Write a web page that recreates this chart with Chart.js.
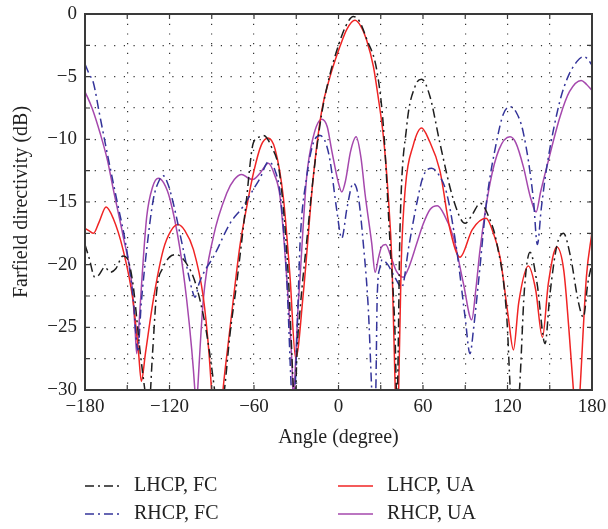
<!DOCTYPE html>
<html>
<head>
<meta charset="utf-8">
<script src="https://cdn.jsdelivr.net/npm/chart.js@4"></script>
<style>
  body { margin: 0; background: #fff; }
  canvas { display: block; }
</style>
</head>
<body>
<canvas id="chart1" width="608" height="529"></canvas>
<script>
// angle (degree) and farfield directivity (dB), one pair of arrays per curve
const angleLhcpFc = [-180,-177,-173,-170,-166,-162,-158,-153,-150,-146,-141,-137.5,-135,-132,-129,-124.4,-120,-115,-110,-103,-98,-93.6,-88,-85,-81,-77,-72.3,-66,-60.5,-56,-53.4,-48,-41.5,-35.6,-32,-31,-29.5,-27.3,-22,-17.9,-12,-6,0,5,10.5,15,20,27.2,31.9,36.6,40,41.5,43.7,48.4,54.3,59,65,72,81.6,89.9,95,100.6,106,112.4,119.5,122,125,128.5,132,136,141,146.7,150,155,159.7,165,170,173.9,177,180];
const dbLhcpFc = [-18.4,-19.5,-21,-20.8,-20.2,-20.6,-20.3,-19.3,-19.5,-21.5,-26.8,-30,-32,-27,-22,-20.2,-19.4,-19.2,-19.6,-21,-23,-25.5,-30,-33,-30,-25.5,-21.5,-15.5,-10.3,-9.8,-9.7,-10.5,-13,-21,-30,-32,-27,-23.6,-17.5,-13,-8,-4.8,-2.5,-1,-0.2,-0.6,-2,-4.5,-9,-18.3,-25,-31,-17,-9,-5.8,-5.2,-6.6,-10.3,-14.8,-16.7,-16,-15.1,-16,-18.3,-24.2,-30,-34,-30,-22,-19,-21.5,-26.3,-22.5,-18.5,-17.5,-19.5,-22.8,-24.2,-21.5,-19.9];

const angleRhcpFc = [-180,-177,-174,-170,-164.6,-157.5,-150.4,-145.7,-142.5,-140,-136.2,-131.5,-127,-124.4,-121,-117.3,-110.2,-104,-101.9,-99,-95,-88.9,-77,-68,-60.5,-55.7,-49.8,-45,-41.5,-36.8,-33.5,-32,-30.8,-29,-27.3,-22.6,-17.9,-13.1,-9,-6,-1.3,2.3,6,10.5,14,17.6,21.2,23.6,25,26.5,27.5,29.5,31,35,40,44.9,50,55.6,60,66.2,71,76.8,83.9,89.9,93.4,96,99.3,105.3,112.4,117,121.8,126,131.3,138.4,141.2,144,147.9,157.3,163,169.2,173.9,177,180];
const dbRhcpFc = [-4,-4.8,-5.5,-7.8,-10.9,-14.8,-18.8,-22.8,-26.8,-23,-18.8,-14.8,-13.2,-12.9,-13.6,-15.1,-18.8,-22,-22.6,-21.5,-20.5,-19.4,-16.7,-15.4,-14,-13.1,-11.8,-12.5,-14.3,-21,-30,-33,-30,-24,-18.3,-13,-10.3,-9.7,-10.3,-11.7,-15.6,-17.9,-15.5,-13.5,-14.5,-18.3,-23.6,-30,-33,-30,-22.5,-20.2,-19.6,-20,-21,-21.8,-18.5,-15.1,-13,-12.3,-12.8,-14.3,-18.8,-24.2,-27.1,-25,-21.5,-14.8,-10.1,-8,-7.4,-7.8,-9.5,-14.8,-18.4,-15.5,-12.2,-6.9,-5,-3.8,-3.4,-3.6,-4.1];

const angleLhcpUa = [-180,-177,-174,-170,-165,-160,-153,-146,-142,-140,-137,-131.5,-124.4,-119,-114,-109,-103,-96,-92,-89,-86.5,-84,-82,-78,-74.7,-70,-65.2,-60,-55,-50,-45,-39.2,-34.4,-30.4,-25,-17.9,-11.9,-6,1,6,11.7,16,20,24.8,28,31.9,35,38,40.3,41.5,42.7,44.5,47.5,53,59,64,72,79.2,86.3,95,104.8,110,114.7,120.6,124.2,128,134.8,140,144.8,149,155,160,163.5,166.8,169.3,171.5,176,180];
const dbLhcpUa = [-17.1,-17.3,-17.5,-16.6,-15.4,-16.3,-18.8,-22.8,-27,-29.3,-27,-22.8,-18.8,-17.3,-16.8,-17.3,-18.8,-22.6,-27,-32,-36,-33,-30,-26,-22.8,-18.5,-15.4,-12.5,-10.5,-9.9,-10.8,-14.6,-21,-27.5,-22.3,-13,-7.7,-5,-2.6,-1.2,-0.5,-1,-2.1,-4.2,-6.5,-9.8,-14,-20,-30,-33,-30,-20,-13.8,-10.5,-9.1,-10,-12.5,-17.2,-19.4,-17.2,-16.3,-17.5,-19.4,-24.2,-26.8,-23,-20.1,-22,-25.8,-21.5,-18.6,-20.5,-25,-30,-34,-30,-21,-17.4];

const angleRhcpUa = [-180,-175,-169.3,-164,-159.9,-152.8,-146.8,-144.5,-143.3,-141.5,-139.8,-136.2,-132,-127.9,-124,-119.6,-112.5,-107.8,-104.2,-102,-101,-100,-96,-88.9,-79.4,-74,-68.7,-64,-61,-55.7,-49.8,-45.5,-41.5,-36.8,-33,-32,-31,-29,-27.3,-22.6,-17.9,-11.9,-8,-4.8,0,2.3,5,8.5,12.5,16,18.8,23.6,26,28.5,30.5,33.5,37,41,46,50,55.6,60,65,70.2,75,81.6,88.7,94.6,97.5,100.5,107.6,114,121.8,126,131.3,136,140.3,143.5,147.9,157.3,164,172.3,176,180];
const dbRhcpUa = [-6.2,-7.5,-9.5,-11.7,-14,-17.8,-21.5,-25,-27.1,-24.5,-21.5,-16.2,-13.8,-13.1,-13.5,-14.8,-18.8,-22.8,-26.8,-30,-32,-30,-22.8,-17.8,-14.3,-13.2,-12.8,-13.1,-13.2,-12.7,-11.9,-12.8,-14.6,-21,-28,-31,-29,-24,-21,-13,-9.8,-8.4,-9,-10.9,-13.5,-14.2,-13.3,-11,-9.8,-11.5,-14.3,-18.3,-20.6,-19.4,-18.6,-18.4,-19.3,-20.5,-21,-20.2,-18.3,-16.8,-15.6,-15.3,-16,-17.8,-21.5,-24.4,-22,-18.8,-13.5,-10.8,-9.8,-10.3,-12.2,-14.5,-15.8,-14.2,-12.2,-8.2,-6.2,-5.3,-5.6,-6.1];

const serif = '"Liberation Serif", "DejaVu Serif", serif';
const dashDot = [9, 4, 2, 4];

function pts(a, d) {
  return a.map((x, i) => ({x: x, y: d[i]}));
}
function minus(v) {
  return String(v).replace('-', '\u2212');
}

// frame with inward tick marks
const framePlugin = {
  id: 'frame',
  afterDraw(chart) {
    const c = chart.ctx, a = chart.chartArea;
    const xs = chart.scales.x, ys = chart.scales.y;
    c.save();
    c.strokeStyle = '#3a3a3a';
    c.lineWidth = 1.2;
    c.beginPath();
    xs.ticks.forEach(t => {
      const px = xs.getPixelForValue(t.value);
      c.moveTo(px, a.bottom); c.lineTo(px, a.bottom - 5);
      c.moveTo(px, a.top); c.lineTo(px, a.top + 5);
    });
    ys.ticks.forEach(t => {
      const py = ys.getPixelForValue(t.value);
      c.moveTo(a.left, py); c.lineTo(a.left + 5, py);
      c.moveTo(a.right, py); c.lineTo(a.right - 5, py);
    });
    c.stroke();
    c.lineWidth = 2;
    c.strokeRect(a.left, a.top, a.right - a.left, a.bottom - a.top);
    c.restore();
  }
};

// 2 x 2 legend under the axis
const legendPlugin = {
  id: 'legend2',
  afterDraw(chart) {
    const c = chart.ctx;
    const slots = [[85, 486], [85, 514], [338, 486], [338, 514]];
    c.save();
    c.font = '20px ' + serif;
    c.textBaseline = 'middle';
    c.fillStyle = '#222';
    chart.data.datasets.forEach((ds, i) => {
      const [x, y] = slots[i];
      c.strokeStyle = ds.borderColor;
      c.lineWidth = 1.6;
      c.setLineDash(ds.borderDash || []);
      c.beginPath();
      c.moveTo(x, y); c.lineTo(x + 35, y);
      c.stroke();
      c.setLineDash([]);
      c.fillText(ds.label, x + 49, y);
    });
    c.restore();
  }
};

new Chart(document.getElementById('chart1'), {
  type: 'line',
  data: {
    datasets: [
      {label: 'LHCP, FC', data: pts(angleLhcpFc, dbLhcpFc), borderColor: '#1e1e1e', borderDash: dashDot},
      {label: 'RHCP, FC', data: pts(angleRhcpFc, dbRhcpFc), borderColor: '#34349a', borderDash: dashDot},
      {label: 'LHCP, UA', data: pts(angleLhcpUa, dbLhcpUa), borderColor: '#f02424'},
      {label: 'RHCP, UA', data: pts(angleRhcpUa, dbRhcpUa), borderColor: '#a548ad'}
    ]
  },
  options: {
    responsive: false,
    animation: false,
    devicePixelRatio: 1,
    layout: {padding: {top: 14, right: 16, left: 0, bottom: 79}},
    elements: {
      point: {radius: 0},
      line: {borderWidth: 1.5, cubicInterpolationMode: 'monotone', fill: false}
    },
    plugins: {legend: {display: false}, tooltip: {enabled: false}},
    scales: {
      x: {
        type: 'linear', min: -180, max: 180,
        afterFit(s) { s.height = 60; s.paddingLeft = 0; s.paddingRight = 0; },
        ticks: {
          stepSize: 30, autoSkip: false, maxRotation: 0, padding: 6,
          color: '#222', font: {family: serif, size: 19},
          callback: v => (v % 60 === 0 ? minus(v) : '')
        },
        grid: {color: '#333', lineWidth: 1.2, drawTicks: false},
        border: {display: false, dash: [1.2, 8.5]},
        title: {display: true, text: 'Angle (degree)', color: '#222', font: {family: serif, size: 20}, padding: 0}
      },
      y: {
        min: -30, max: 0,
        afterFit(s) { s.width = 85; s.paddingTop = 0; s.paddingBottom = 0; },
        ticks: {
          stepSize: 2.5, autoSkip: false, padding: 8,
          color: '#222', font: {family: serif, size: 19},
          callback: v => (v % 5 === 0 ? minus(v) : '')
        },
        grid: {color: '#333', lineWidth: 1.2, drawTicks: false},
        border: {display: false, dash: [1.2, 8.5]},
        title: {display: true, text: 'Farfield directivity (dB)', color: '#222', font: {family: serif, size: 20}, padding: {top: 10, bottom: 0}}
      }
    }
  },
  plugins: [framePlugin, legendPlugin]
});
</script>
</body>
</html>
